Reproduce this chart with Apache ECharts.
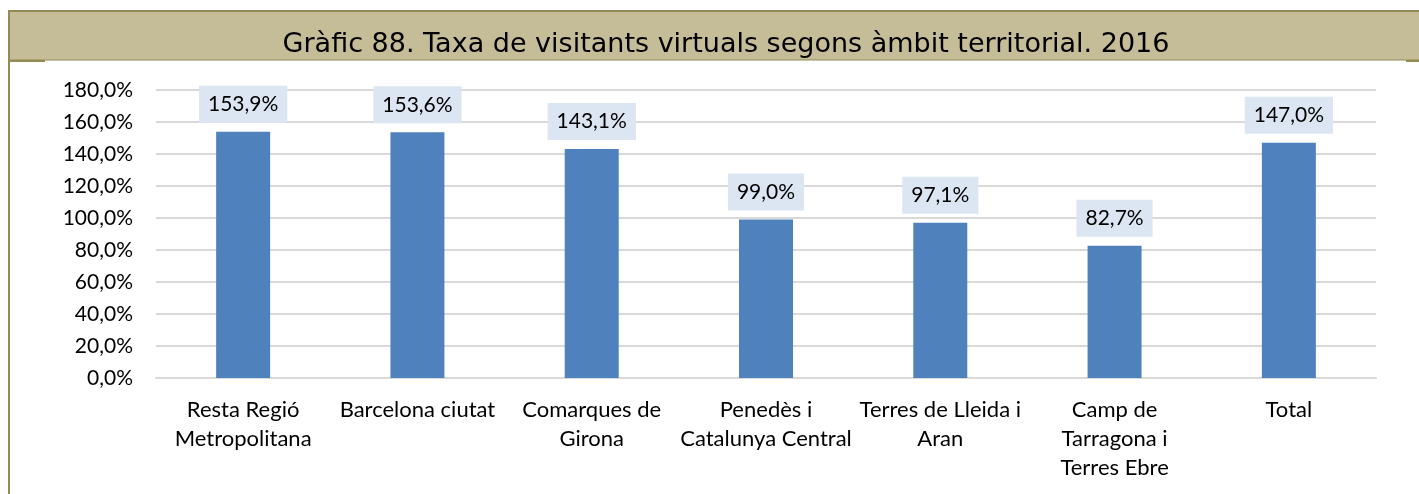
<!DOCTYPE html>
<html>
<head>
<meta charset="utf-8">
<script src="https://cdn.jsdelivr.net/npm/echarts@6/dist/echarts.min.js"></script>
<style>
  html, body { margin: 0; padding: 0; background: #fff; }
  #chart { width: 1419px; height: 494px; }
</style>
</head>
<body>
<div id="chart"></div>
<script>
// Taxa de visitants virtuals per àmbit territorial, 2016
const categories = [
  'Resta Regió\nMetropolitana',
  'Barcelona ciutat',
  'Comarques de\nGirona',
  'Penedès i\nCatalunya Central',
  'Terres de Lleida i\nAran',
  'Camp de\nTarragona i\nTerres Ebre',
  'Total'
];
const values = [153.9, 153.6, 143.1, 99.0, 97.1, 82.7, 147.0];
const titleText = 'Gràfic 88. Taxa de visitants virtuals segons àmbit territorial. 2016';

const pct = v => v.toFixed(1).replace('.', ',') + '%';
const bodyFont = 'Lato';
const frameColor = '#948a54';

const chart = echarts.init(document.getElementById('chart'), null, { renderer: 'canvas' });
chart.setOption({
  animation: false,
  backgroundColor: '#ffffff',
  graphic: [
    { type: 'rect', shape: { x: 9, y: 11, width: 1410, height: 49 }, style: { fill: '#c4bd97' }, z: 0 },
    { type: 'line', shape: { x1: 8, y1: 11, x2: 1419, y2: 11 }, style: { stroke: frameColor, lineWidth: 2 } },
    { type: 'line', shape: { x1: 9, y1: 10, x2: 9, y2: 494 }, style: { stroke: frameColor, lineWidth: 2 } },
    { type: 'line', shape: { x1: 9, y1: 60, x2: 1419, y2: 60 }, style: { stroke: frameColor, lineWidth: 1 } },
    { type: 'line', shape: { x1: 9, y1: 61, x2: 45, y2: 61 }, style: { stroke: frameColor, lineWidth: 2 } },
    { type: 'line', shape: { x1: 1406, y1: 61, x2: 1419, y2: 61 }, style: { stroke: frameColor, lineWidth: 2 } },
    {
      type: 'text', x: 726, y: 45,
      style: {
        text: titleText, fill: '#000', font: '27px "DejaVu Sans"',
        align: 'center', verticalAlign: 'middle'
      }
    }
  ],
  grid: { left: 156, right: 43, top: 90, bottom: 116 },
  xAxis: {
    type: 'category',
    data: categories,
    axisLine: { show: true, lineStyle: { color: '#d9d9d9', width: 2 } },
    axisTick: { show: false },
    axisLabel: {
      interval: 0, margin: 17, color: '#000',
      fontFamily: bodyFont, fontSize: 22, lineHeight: 29, align: 'center'
    }
  },
  yAxis: {
    type: 'value',
    min: 0, max: 180, interval: 20,
    axisLine: { show: false },
    axisTick: { show: false },
    splitLine: { lineStyle: { color: '#d9d9d9', width: 2 } },
    axisLabel: {
      margin: 23, color: '#000', fontFamily: bodyFont, fontSize: 21,
      formatter: v => pct(v)
    }
  },
  series: [{
    type: 'bar',
    data: values,
    barWidth: 54,
    itemStyle: { color: '#4f81bd' },
    label: {
      show: true, position: 'top', distance: 9,
      formatter: p => pct(p.value),
      color: '#000', fontFamily: bodyFont, fontSize: 21, lineHeight: 19,
      backgroundColor: '#dce6f2', padding: [9, 9, 9, 9]
    }
  }]
});
</script>
</body>
</html>
